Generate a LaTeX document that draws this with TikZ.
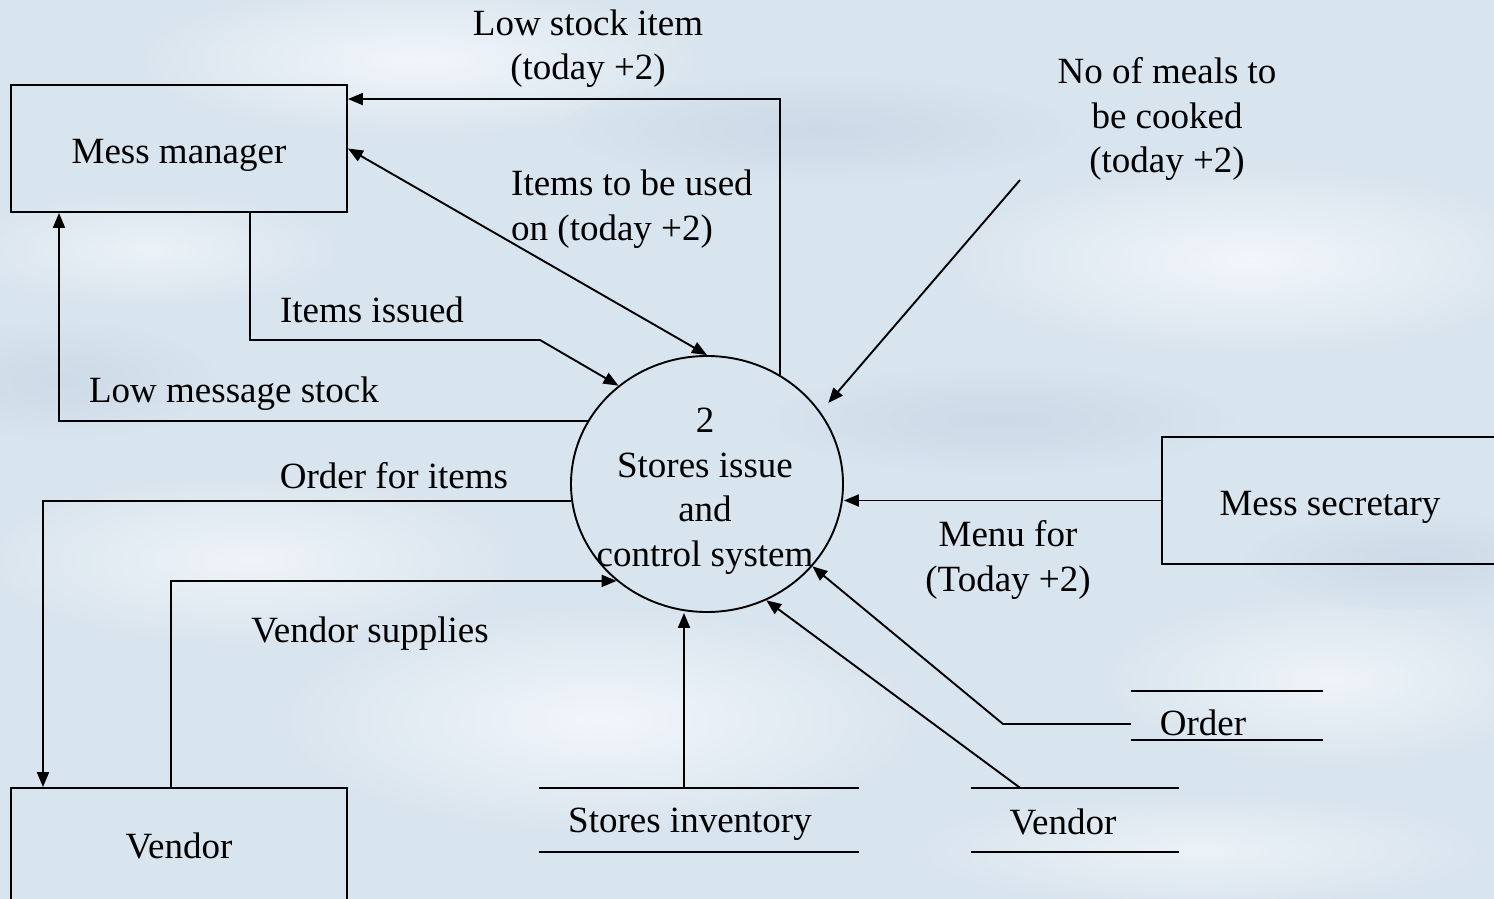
\documentclass[tikz,border=0pt]{standalone}
\usepackage{fontspec}
\setmainfont{Liberation Serif}
\usetikzlibrary{arrows.meta,shapes.geometric}

\definecolor{skybase}{RGB}{216,228,238}
\definecolor{skylight}{RGB}{244,248,252}
\definecolor{skydark}{RGB}{196,211,227}

\tikzset{
  flow/.style={line width=1.9pt, -{Triangle[length=15pt,width=12pt]}},
  bothflow/.style={line width=1.9pt, {Triangle[length=15pt,width=12pt]}-{Triangle[length=15pt,width=12pt]}},
  plainline/.style={line width=1.9pt},
  entity/.style={draw, line width=1.9pt, rectangle, minimum width=336pt, minimum height=127pt,
                 inner sep=0pt, text height=34pt, text depth=3.5pt},
  storeframe/.style={rectangle, inner sep=0pt},
  lbl/.style={inner sep=0pt, align=center},
  lblleft/.style={inner sep=0pt, align=left},
  cloud/.style={draw=none, ellipse},
}

\begin{document}
\begin{tikzpicture}[x=1pt, y=-1pt, font=\fontsize{37}{44.5}\selectfont]
  % sky background
  \useasboundingbox (0,0) rectangle (1494,899);
  \fill[skybase] (0,0) rectangle (1494,899);
  \begin{scope}
    \clip (0,0) rectangle (1494,899);
    \shade[cloud, inner color=skylight, outer color=skybase, opacity=0.9] (420,60) ellipse (300 and 80);
    \shade[cloud, inner color=skylight, outer color=skybase, opacity=0.9] (1250,260) ellipse (320 and 100);
    \shade[cloud, inner color=skylight, outer color=skybase, opacity=0.9] (600,720) ellipse (340 and 120);
    \shade[cloud, inner color=skylight, outer color=skybase, opacity=0.8] (250,560) ellipse (280 and 90);
    \shade[cloud, inner color=skylight, outer color=skybase, opacity=0.8] (1330,680) ellipse (240 and 90);
    \shade[cloud, inner color=skylight, outer color=skybase, opacity=0.7] (150,250) ellipse (200 and 60);
    \shade[cloud, inner color=skylight, outer color=skybase, opacity=0.7] (1200,850) ellipse (300 and 60);
    \shade[cloud, inner color=skydark, outer color=skybase, opacity=0.6] (820,130) ellipse (260 and 55);
    \shade[cloud, inner color=skydark, outer color=skybase, opacity=0.6] (1000,420) ellipse (240 and 55);
    \shade[cloud, inner color=skydark, outer color=skybase, opacity=0.5] (60,380) ellipse (160 and 60);
    \shade[cloud, inner color=skydark, outer color=skybase, opacity=0.5] (1420,560) ellipse (180 and 50);
  \end{scope}

  % external entities
  \node[entity] (mm) at (179,148.5) {Mess manager};
  \node[entity] (ms) at (1330,500.5) {Mess secretary};
  \node[entity, text height=25pt, text depth=12pt] (vd) at (179,851.5) {Vendor};

  % process bubble
  \node[draw, line width=1.9pt, ellipse, minimum width=272pt, minimum height=256pt, inner sep=0pt] (proc) at (707,484) {};
  \node[lbl] (proctext) at (705,491) {2\\Stores issue\\and\\control system};

  % data stores: two rules each, with the store name between them
  \node[storeframe, minimum width=320pt, minimum height=64pt] (siframe) at (699,820) {};
  \node[storeframe, minimum width=208pt, minimum height=64pt] (vsframe) at (1075,820) {};
  \node[storeframe, minimum width=192pt, minimum height=49pt] (osframe) at (1227,715.5) {};
  \foreach \s in {siframe,vsframe,osframe}{
    \draw[plainline] (\s.north west) -- (\s.north east) (\s.south west) -- (\s.south east);
  }
  \node[lbl] (si) at (690,824) {Stores inventory};
  \node[lbl] (vs) at (1063,822) {Vendor};
  \node[lbl] (os) at (1203,723) {Order};

  % bend points and free ends
  \coordinate (issuedturn) at (540,340);
  \coordinate (meals) at (1020,180);
  \coordinate (orderturn) at (1003,724);

  % flows
  \draw[flow] (proc.56.5) |- ([yshift=-15pt]mm.north east);
  \draw[bothflow] (mm.east) -- (proc.north);
  \draw[flow] ([xshift=71pt]mm.south) |- (issuedturn) -- (proc.132);
  \draw[flow] (proc.152.5) -| ([xshift=-120pt]mm.south);
  \draw[flow] (meals) -- ([shift={(10pt,6pt)}]proc.34);
  \draw[flow] (ms.west) -- (ms.west -| proc.east);
  \draw[flow] (proc.187.6) -| ([xshift=-136pt]vd.north);
  \draw[flow] ([xshift=-8pt]vd.north) |- (proc.227.8);
  \draw[flow] ([xshift=-15pt]siframe.north) -- ([xshift=-15pt]siframe.north |- proc.south);
  \draw[flow] ([xshift=-55pt]vsframe.north) -- (proc.297);
  \draw[flow] ([yshift=-8.5pt]osframe.west) -- (orderturn) -- (proc.322);

  % flow labels
  \node[lbl] (lowstock) at (588,48.5) {Low stock item\\(today +2)};
  \node[lblleft, anchor=west] (tobeused) at (511,209) {Items to be used\\on (today +2)};
  \node[lbl] (issued) at (372,310) {Items issued};
  \node[lbl] (lowmsg) at (234,394) {Low message stock};
  \node[lbl] (mealslbl) at (1167,119) {No of meals to\\be cooked\\(today +2)};
  \node[lbl] (orderitems) at (394,476) {Order for items};
  \node[lbl] (supplies) at (370,634) {Vendor supplies};
  \node[lbl] (menu) at (1008,560) {Menu for\\(Today +2)};
\end{tikzpicture}
\end{document}
